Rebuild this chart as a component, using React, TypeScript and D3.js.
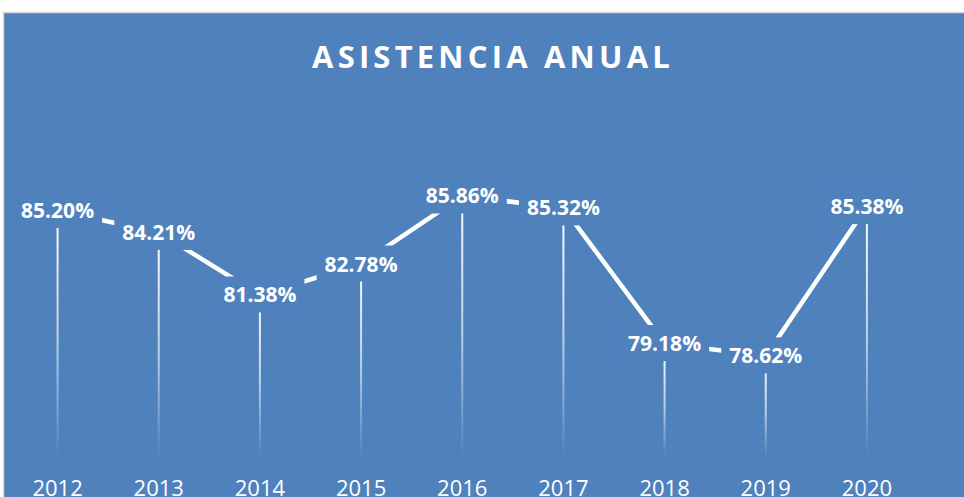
import * as d3 from 'd3';
import React, { useEffect, useRef } from 'react';

const years = ['2012', '2013', '2014', '2015', '2016', '2017', '2018', '2019', '2020'];
const asistencia = [85.2, 84.21, 81.38, 82.78, 85.86, 85.32, 79.18, 78.62, 85.38];
const yDomain = [74, 88];

const W = 964;
const H = 497;
const BLUE = '#4F81BD';

export default function App() {
  const ref = useRef<SVGSVGElement | null>(null);

  useEffect(() => {
    const svg = d3.select(ref.current);
    svg.selectAll('*').remove();

    const x = d3.scaleBand().domain(years).range([7, 917.5]);
    const y = d3.scaleLinear().domain(yDomain).range([458, 148.7]);
    const cx = (d: string) => (x(d) as number) + x.bandwidth() / 2;

    const defs = svg.append('defs');
    const grad = defs.append('linearGradient')
      .attr('id', 'drop')
      .attr('x1', 0).attr('y1', 0).attr('x2', 0).attr('y2', 1);
    grad.append('stop').attr('offset', '0%').attr('stop-color', '#fff').attr('stop-opacity', 1);
    grad.append('stop').attr('offset', '55%').attr('stop-color', '#fff').attr('stop-opacity', 0.6);
    grad.append('stop').attr('offset', '100%').attr('stop-color', '#fff').attr('stop-opacity', 0);

    // chart area
    svg.append('rect')
      .attr('x', 3.5).attr('y', 12.5)
      .attr('width', W + 10).attr('height', H + 10)
      .attr('fill', BLUE)
      .attr('stroke', '#D9D9D9')
      .attr('stroke-width', 1.5);

    svg.append('text')
      .attr('x', 493)
      .attr('y', 68)
      .attr('text-anchor', 'middle')
      .attr('fill', '#fff')
      .attr('font-family', 'Open Sans')
      .attr('font-weight', 700)
      .attr('font-size', 31)
      .attr('letter-spacing', 4.2)
      .text('ASISTENCIA ANUAL');

    const pts = years.map((d, i) => ({ year: d, v: asistencia[i] }));

    // drop lines
    svg.append('g').selectAll('rect')
      .data(pts)
      .enter()
      .append('rect')
      .attr('x', (d) => cx(d.year) - 1)
      .attr('y', (d) => y(d.v))
      .attr('width', 2)
      .attr('height', (d) => y(yDomain[0]) - y(d.v))
      .attr('fill', 'url(#drop)');

    const line = d3.line<{ year: string; v: number }>()
      .x((d) => cx(d.year))
      .y((d) => y(d.v));

    svg.append('path')
      .datum(pts)
      .attr('d', line)
      .attr('fill', 'none')
      .attr('stroke', '#fff')
      .attr('stroke-width', 4.5)
      .attr('stroke-linejoin', 'round');

    // data labels with fill so they cut the line
    const lab = svg.append('g').selectAll('g')
      .data(pts)
      .enter()
      .append('g');

    lab.append('rect').attr('fill', BLUE);
    lab.append('text')
      .attr('x', (d) => cx(d.year))
      .attr('y', (d) => y(d.v) + 7.5)
      .attr('text-anchor', 'middle')
      .attr('fill', '#fff')
      .attr('font-family', 'Open Sans')
      .attr('font-weight', 700)
      .attr('font-size', 21)
      .text((d) => d.v.toFixed(2) + '%');

    lab.each(function () {
      const g = d3.select(this);
      const t = g.select('text').node() as SVGTextElement;
      const b = t.getBBox();
      g.select('rect')
        .attr('x', b.x - 8)
        .attr('y', b.y - 4)
        .attr('width', b.width + 16)
        .attr('height', b.height + 8);
    });

    svg.append('g').selectAll('text')
      .data(years)
      .enter()
      .append('text')
      .attr('x', (d) => cx(d))
      .attr('y', 495.5)
      .attr('text-anchor', 'middle')
      .attr('fill', '#fff')
      .attr('font-family', 'Open Sans')
      .attr('font-size', 22)
      .text((d) => d);
  }, []);

  return (
    <svg
      ref={ref}
      width={W}
      height={H}
      style={{ position: 'absolute', left: 0, top: 0, display: 'block' }}
    />
  );
}
